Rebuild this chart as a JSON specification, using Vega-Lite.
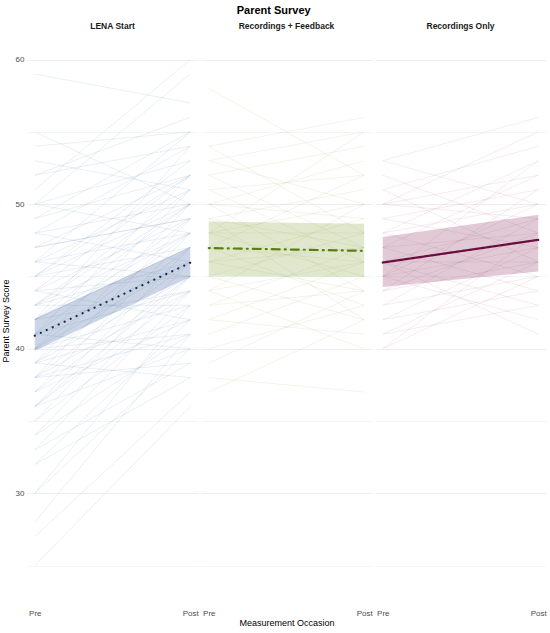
{
"$schema":"https://vega.github.io/schema/vega-lite/v6.json",
"padding":{"left":1,"right":4,"top":4,"bottom":2},
"title":{"text":"Parent Survey","fontSize":11,"fontWeight":"bold","font":"Liberation Sans","color":"#000000","offset":6,"anchor":"middle"},
"config":{"font":"Liberation Sans","view":{"stroke":null},
 "axis":{"ticks":false,"domain":false,"gridColor":"#e6e6e6","labelColor":"#4d4d4d","labelFontSize":8,"titleFontSize":9,"titleFontWeight":"normal","titleColor":"#000000","labelFont":"Liberation Sans","titleFont":"Liberation Sans"}},
"data":{"values":[
{"g":"LENA Start","a":59,"b":57},{"g":"LENA Start","a":55,"b":50},{"g":"LENA Start","a":54,"b":55},{"g":"LENA Start","a":52,"b":56},{"g":"LENA Start","a":52,"b":54},{"g":"LENA Start","a":51,"b":60},{"g":"LENA Start","a":50,"b":59},{"g":"LENA Start","a":50,"b":53},{"g":"LENA Start","a":49,"b":55},{"g":"LENA Start","a":49,"b":52},
{"g":"LENA Start","a":48,"b":54},{"g":"LENA Start","a":48,"b":50},{"g":"LENA Start","a":47,"b":52},{"g":"LENA Start","a":47,"b":49},{"g":"LENA Start","a":46,"b":55},{"g":"LENA Start","a":46,"b":51},{"g":"LENA Start","a":46,"b":48},{"g":"LENA Start","a":45,"b":53},{"g":"LENA Start","a":45,"b":50},{"g":"LENA Start","a":45,"b":47},
{"g":"LENA Start","a":44,"b":52},{"g":"LENA Start","a":44,"b":49},{"g":"LENA Start","a":44,"b":45},{"g":"LENA Start","a":43,"b":51},{"g":"LENA Start","a":43,"b":48},{"g":"LENA Start","a":43,"b":46},{"g":"LENA Start","a":43,"b":43},{"g":"LENA Start","a":42,"b":54},{"g":"LENA Start","a":42,"b":50},{"g":"LENA Start","a":42,"b":47},
{"g":"LENA Start","a":42,"b":44},{"g":"LENA Start","a":41,"b":52},{"g":"LENA Start","a":41,"b":49},{"g":"LENA Start","a":41,"b":46},{"g":"LENA Start","a":41,"b":44},{"g":"LENA Start","a":40,"b":51},{"g":"LENA Start","a":40,"b":48},{"g":"LENA Start","a":40,"b":46},{"g":"LENA Start","a":40,"b":43},{"g":"LENA Start","a":40,"b":41},
{"g":"LENA Start","a":39,"b":50},{"g":"LENA Start","a":39,"b":47},{"g":"LENA Start","a":39,"b":45},{"g":"LENA Start","a":39,"b":42},{"g":"LENA Start","a":38,"b":49},{"g":"LENA Start","a":38,"b":46},{"g":"LENA Start","a":38,"b":44},{"g":"LENA Start","a":38,"b":41},{"g":"LENA Start","a":38,"b":39},{"g":"LENA Start","a":37,"b":48},
{"g":"LENA Start","a":37,"b":45},{"g":"LENA Start","a":37,"b":42},{"g":"LENA Start","a":36,"b":47},{"g":"LENA Start","a":36,"b":44},{"g":"LENA Start","a":36,"b":40},{"g":"LENA Start","a":35,"b":46},{"g":"LENA Start","a":35,"b":43},{"g":"LENA Start","a":34,"b":45},{"g":"LENA Start","a":34,"b":41},{"g":"LENA Start","a":33,"b":44},
{"g":"LENA Start","a":33,"b":39},{"g":"LENA Start","a":32,"b":42},{"g":"LENA Start","a":32,"b":38},{"g":"LENA Start","a":30,"b":43},{"g":"LENA Start","a":30,"b":40},{"g":"LENA Start","a":28,"b":41},{"g":"LENA Start","a":27,"b":37},{"g":"LENA Start","a":25,"b":36},{"g":"LENA Start","a":48,"b":46},{"g":"LENA Start","a":50,"b":48},
{"g":"LENA Start","a":53,"b":51},{"g":"LENA Start","a":44,"b":42},{"g":"LENA Start","a":46,"b":45},{"g":"LENA Start","a":41,"b":40},{"g":"LENA Start","a":39,"b":38},{"g":"LENA Start","a":47,"b":49},{"g":"LENA Start","a":45,"b":52},{"g":"LENA Start","a":42,"b":48},{"g":"LENA Start","a":36,"b":45},{"g":"LENA Start","a":43,"b":50},
{"g":"Recordings + Feedback","a":58,"b":52},{"g":"Recordings + Feedback","a":54,"b":56},{"g":"Recordings + Feedback","a":54,"b":48},{"g":"Recordings + Feedback","a":53,"b":55},{"g":"Recordings + Feedback","a":53,"b":50},{"g":"Recordings + Feedback","a":52,"b":54},{"g":"Recordings + Feedback","a":52,"b":47},{"g":"Recordings + Feedback","a":51,"b":52},{"g":"Recordings + Feedback","a":51,"b":46},{"g":"Recordings + Feedback","a":50,"b":53},
{"g":"Recordings + Feedback","a":50,"b":49},{"g":"Recordings + Feedback","a":50,"b":44},{"g":"Recordings + Feedback","a":49,"b":51},{"g":"Recordings + Feedback","a":49,"b":47},{"g":"Recordings + Feedback","a":49,"b":42},{"g":"Recordings + Feedback","a":48,"b":50},{"g":"Recordings + Feedback","a":48,"b":45},{"g":"Recordings + Feedback","a":48,"b":48},{"g":"Recordings + Feedback","a":47,"b":52},{"g":"Recordings + Feedback","a":47,"b":46},
{"g":"Recordings + Feedback","a":47,"b":43},{"g":"Recordings + Feedback","a":46,"b":49},{"g":"Recordings + Feedback","a":46,"b":44},{"g":"Recordings + Feedback","a":46,"b":47},{"g":"Recordings + Feedback","a":45,"b":48},{"g":"Recordings + Feedback","a":45,"b":42},{"g":"Recordings + Feedback","a":45,"b":45},{"g":"Recordings + Feedback","a":44,"b":50},{"g":"Recordings + Feedback","a":44,"b":46},{"g":"Recordings + Feedback","a":44,"b":40},
{"g":"Recordings + Feedback","a":43,"b":47},{"g":"Recordings + Feedback","a":43,"b":44},{"g":"Recordings + Feedback","a":42,"b":46},{"g":"Recordings + Feedback","a":42,"b":41},{"g":"Recordings + Feedback","a":41,"b":45},{"g":"Recordings + Feedback","a":40,"b":43},{"g":"Recordings + Feedback","a":39,"b":44},{"g":"Recordings + Feedback","a":38,"b":37},{"g":"Recordings + Feedback","a":37,"b":42},{"g":"Recordings + Feedback","a":48,"b":55},
{"g":"Recordings Only","a":53,"b":50},{"g":"Recordings Only","a":53,"b":56},{"g":"Recordings Only","a":52,"b":48},{"g":"Recordings Only","a":51,"b":54},{"g":"Recordings Only","a":51,"b":46},{"g":"Recordings Only","a":50,"b":52},{"g":"Recordings Only","a":50,"b":49},{"g":"Recordings Only","a":50,"b":55},{"g":"Recordings Only","a":49,"b":47},{"g":"Recordings Only","a":49,"b":51},
{"g":"Recordings Only","a":48,"b":53},{"g":"Recordings Only","a":48,"b":45},{"g":"Recordings Only","a":48,"b":50},{"g":"Recordings Only","a":47,"b":48},{"g":"Recordings Only","a":47,"b":44},{"g":"Recordings Only","a":47,"b":52},{"g":"Recordings Only","a":46,"b":49},{"g":"Recordings Only","a":46,"b":46},{"g":"Recordings Only","a":46,"b":43},{"g":"Recordings Only","a":45,"b":50},
{"g":"Recordings Only","a":45,"b":47},{"g":"Recordings Only","a":45,"b":42},{"g":"Recordings Only","a":44,"b":48},{"g":"Recordings Only","a":44,"b":46},{"g":"Recordings Only","a":44,"b":51},{"g":"Recordings Only","a":43,"b":45},{"g":"Recordings Only","a":43,"b":49},{"g":"Recordings Only","a":42,"b":47},{"g":"Recordings Only","a":42,"b":44},{"g":"Recordings Only","a":41,"b":46},
{"g":"Recordings Only","a":41,"b":43},{"g":"Recordings Only","a":40,"b":45},{"g":"Recordings Only","a":40,"b":48},{"g":"Recordings Only","a":46,"b":41},{"g":"Recordings Only","a":45,"b":53},
{"g":"LENA Start","t":0,"m":40.9,"lo":39.86,"hi":42.07},{"g":"LENA Start","t":1,"m":45.94,"lo":44.98,"hi":47.05},
{"g":"Recordings + Feedback","t":0,"m":46.96,"lo":45.04,"hi":48.8},{"g":"Recordings + Feedback","t":1,"m":46.77,"lo":45.0,"hi":48.64},
{"g":"Recordings Only","t":0,"m":45.96,"lo":44.26,"hi":47.72},{"g":"Recordings Only","t":1,"m":47.53,"lo":45.34,"hi":49.26}
]},
"spacing":3,
"facet":{"column":{"field":"g","type":"nominal","sort":["LENA Start","Recordings + Feedback","Recordings Only"],"title":"Measurement Occasion",
 "header":{"labelOrient":"top","titleOrient":"bottom","titleFontWeight":"normal","titleFontSize":9,"titleColor":"#000000","titleFont":"Liberation Sans","titlePadding":-8,
  "labelFontWeight":"bold","labelFontSize":8.5,"labelColor":"#1a1a1a","labelPadding":5,"labelFont":"Liberation Sans"}}},
"spec":{
 "width":171,"height":571,
 "layer":[
  {"transform":[{"filter":"isValid(datum.a)"}],
   "mark":{"type":"rule","strokeWidth":0.5,"opacity":0.22},
   "encoding":{
    "x":{"datum":0,"type":"quantitative","title":null,
     "scale":{"domain":[-0.05,1.05],"nice":false,"zero":false},
     "axis":{"values":[0,0.5,1],"labelExpr":"datum.value == 0 ? 'Pre' : (datum.value == 1 ? 'Post' : '')","labelPadding":3,"labelFlush":false,
      "gridWidth":{"condition":{"test":"datum.value == 0.5","value":0.4},"value":0.7}}},
    "x2":{"datum":1},
    "y":{"field":"a","type":"quantitative","title":"Parent Survey Score",
     "scale":{"domain":[22.2,61.7],"nice":false,"zero":false},
     "axis":{"values":[25,30,35,40,45,50,55,60],"labelExpr":"datum.value % 10 == 0 ? datum.label : ''","labelPadding":3,"titlePadding":5,
      "gridWidth":{"condition":{"test":"datum.value % 10 == 0","value":0.7},"value":0.4}}},
    "y2":{"field":"b"},
    "stroke":{"field":"g","type":"nominal","legend":null,
     "scale":{"domain":["LENA Start","Recordings + Feedback","Recordings Only"],"range":["#3d6a9e","#8aa43c","#a8507e"]}}
   }},
  {"transform":[{"filter":"isValid(datum.m)"}],
   "mark":{"type":"area","opacity":0.27},
   "encoding":{
    "x":{"field":"t","type":"quantitative","title":null},
    "y":{"field":"lo","type":"quantitative","title":"Parent Survey Score"},
    "y2":{"field":"hi"},
    "fill":{"field":"g","type":"nominal","legend":null,
     "scale":{"domain":["LENA Start","Recordings + Feedback","Recordings Only"],"range":["#3d65a0","#8ea548","#913a69"]}}
   }},
  {"transform":[{"filter":"isValid(datum.m)"}],
   "mark":{"type":"line","strokeWidth":2.2,"strokeCap":"round"},
   "encoding":{
    "x":{"field":"t","type":"quantitative","title":null},
    "y":{"field":"m","type":"quantitative","title":"Parent Survey Score"},
    "color":{"field":"g","type":"nominal","legend":null,
     "scale":{"domain":["LENA Start","Recordings + Feedback","Recordings Only"],"range":["#142a4c","#5b7f0f","#6a0d3f"]}},
    "strokeDash":{"field":"g","type":"nominal","legend":null,
     "scale":{"domain":["LENA Start","Recordings + Feedback","Recordings Only"],"range":[[0.1,6.5],[1,5,8,5],[1,0]]}}
   }}
 ]
}
}
